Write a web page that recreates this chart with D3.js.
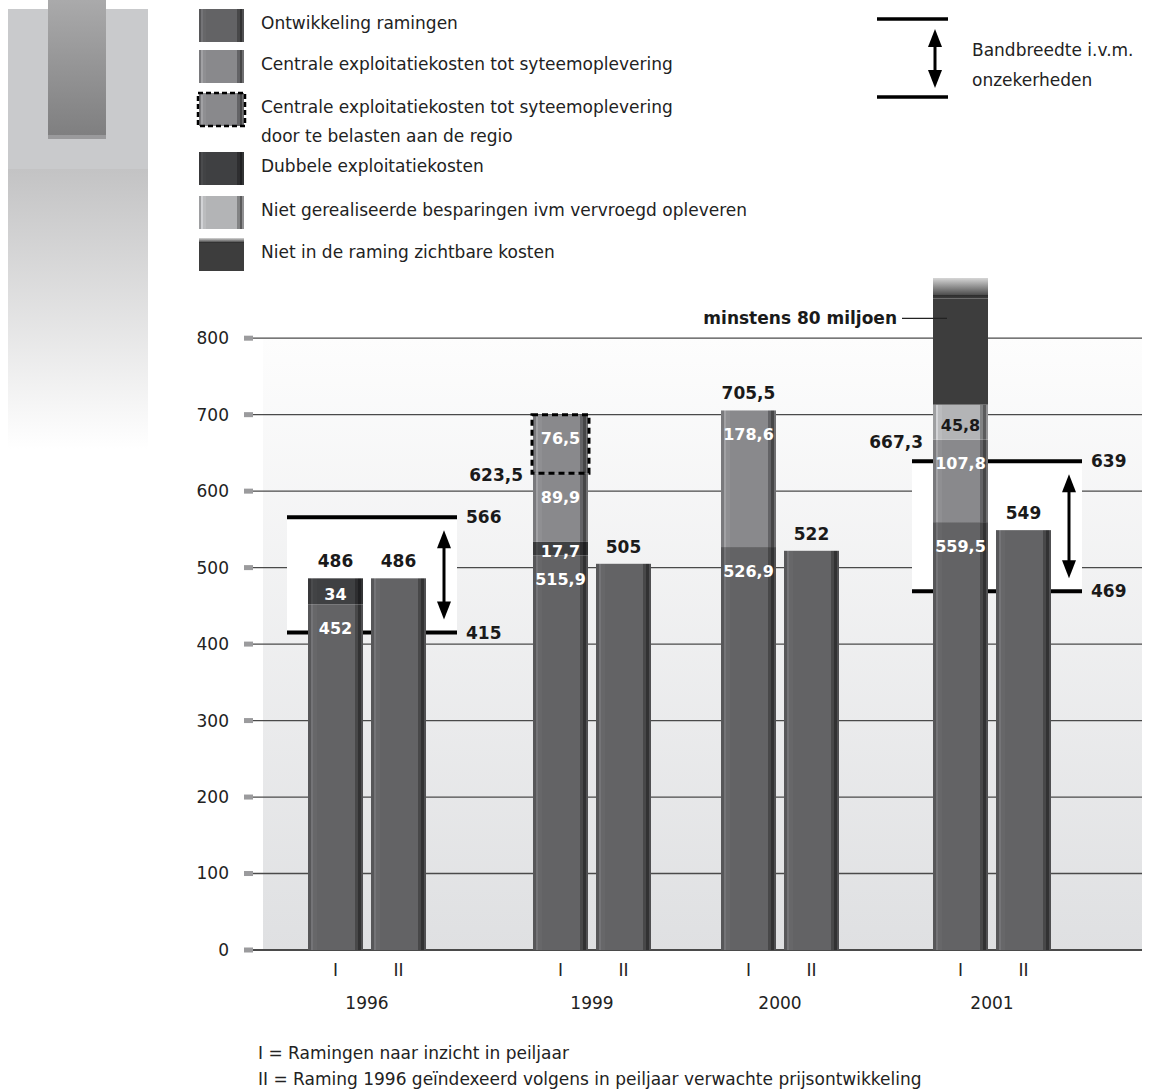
<!DOCTYPE html>
<html>
<head>
<meta charset="utf-8">
<script src="https://cdn.jsdelivr.net/npm/d3@7"></script>
<style>
  body { margin: 0; background: #fff; }
  svg { display: block; font-family: "DejaVu Sans", Verdana, sans-serif; }
</style>
</head>
<body>
<svg id="chart" width="1149" height="1090"></svg>
<script>
// ---- data ----
const years = ["1996", "1999", "2000", "2001"];
const kinds = ["I", "II"];

// raming I, stacked segments (miljoen)
const ontwikkeling = [452, 515.9, 526.9, 559.5];
const dubbele = [34, 17.7, 0, 0];
const centrale = [0, 89.9, 178.6, 107.8];
const centraleRegio = [0, 76.5, 0, 0];
const nietGerealiseerd = [0, 0, 0, 45.8];
const nietInRaming = [0, 0, 0, 80];   // "minstens 80 miljoen", open ended

// raming II (1996 geindexeerd)
const geindexeerd = [486, 505, 522, 549];

const segLabels = {
  ontwikkeling: ["452", "515,9", "526,9", "559,5"],
  dubbele: ["34", "17,7", "", ""],
  centrale: ["", "89,9", "178,6", "107,8"],
  centraleRegio: ["", "76,5", "", ""],
  nietGerealiseerd: ["", "", "", "45,8"]
};
const totalLabelsI = ["486", "", "705,5", ""];
const sideLabelsI = ["", "623,5", "", "667,3"];
const labelsII = ["486", "505", "522", "549"];

const bandHigh = [566, null, null, 639];
const bandLow = [415, null, null, 469];

const yTicks = [0, 100, 200, 300, 400, 500, 600, 700, 800];

const legendItems = [
  {key: "ontwikkeling", lines: ["Ontwikkeling ramingen"]},
  {key: "centrale", lines: ["Centrale exploitatiekosten tot syteemoplevering"]},
  {key: "centraleRegio", lines: ["Centrale exploitatiekosten tot syteemoplevering", "door te belasten aan de regio"]},
  {key: "dubbele", lines: ["Dubbele exploitatiekosten"]},
  {key: "nietGerealiseerd", lines: ["Niet gerealiseerde besparingen ivm vervroegd opleveren"]},
  {key: "nietInRaming", lines: ["Niet in de raming zichtbare kosten"]}
];

const colors = {
  ontwikkeling: "#636365",
  centrale: "#89898c",
  centraleRegio: "#89898c",
  dubbele: "#3f4042",
  nietGerealiseerd: "#b3b4b6",
  nietInRaming: "#3d3d3d"
};

const stackOrder = ["ontwikkeling", "dubbele", "centrale", "centraleRegio", "nietGerealiseerd", "nietInRaming"];
const stackValues = {ontwikkeling, dubbele, centrale, centraleRegio, nietGerealiseerd, nietInRaming};

// ---- setup ----
const svg = d3.select("#chart");
const defs = svg.append("defs");

const y = d3.scaleLinear().domain([0, 880]).range([950, 277]);
const groupX = d3.scaleOrdinal().domain(years).range([308, 533, 721, 933]);
const subX = d3.scaleBand().domain(kinds).range([0, 118]).paddingInner(0.127);
const bw = subX.bandwidth();
const plotLeft = 263, plotRight = 1142;
const fs = 17;

// vertical stripe gradient for each colour (the "tube" look)
function stripeGradient(id, base) {
  const c = d3.color(base);
  const stops = [
    [0, c.darker(0.35)], [0.055, c.darker(0.35)],
    [0.055, c.brighter(0.45)], [0.095, c.brighter(0.45)],
    [0.095, c.brighter(0.12)], [0.16, c.brighter(0.12)],
    [0.16, c], [0.85, c],
    [0.85, c.darker(0.9)], [0.91, c.darker(0.9)],
    [0.91, c.darker(1.9)], [0.96, c.darker(1.9)],
    [0.96, c.darker(0.6)], [1, c.darker(0.6)]
  ];
  const g = defs.append("linearGradient").attr("id", id)
    .attr("x1", 0).attr("x2", 1).attr("y1", 0).attr("y2", 0);
  g.selectAll("stop").data(stops).enter().append("stop")
    .attr("offset", d => d[0]).attr("stop-color", d => d[1].formatHex());
}
Object.keys(colors).forEach(k => { if (k !== "nietInRaming") stripeGradient("g_" + k, colors[k]); });

const fade = defs.append("linearGradient").attr("id", "g_fade")
  .attr("x1", 0).attr("x2", 0).attr("y1", 0).attr("y2", 1);
fade.append("stop").attr("offset", 0).attr("stop-color", "#d6d6d6");
fade.append("stop").attr("offset", 0.85).attr("stop-color", "#4a4a4a");
fade.append("stop").attr("offset", 0.85).attr("stop-color", "#2e2e2e");
fade.append("stop").attr("offset", 1).attr("stop-color", "#3d3d3d");

const bgGrad = defs.append("linearGradient").attr("id", "g_bg")
  .attr("x1", 0).attr("x2", 0).attr("y1", 0).attr("y2", 1);
bgGrad.append("stop").attr("offset", 0).attr("stop-color", "#fdfdfd");
bgGrad.append("stop").attr("offset", 1).attr("stop-color", "#dfe0e2");

const sideGrad = defs.append("linearGradient").attr("id", "g_side")
  .attr("x1", 0).attr("x2", 0).attr("y1", 0).attr("y2", 1);
sideGrad.append("stop").attr("offset", 0).attr("stop-color", "#c3c3c4");
sideGrad.append("stop").attr("offset", 1).attr("stop-color", "#ffffff");

const innerGrad = defs.append("linearGradient").attr("id", "g_inner")
  .attr("x1", 0).attr("x2", 0).attr("y1", 0).attr("y2", 1);
innerGrad.append("stop").attr("offset", 0).attr("stop-color", "#aaaaab");
innerGrad.append("stop").attr("offset", 1).attr("stop-color", "#7f7f80");

// ---- left decoration ----
svg.append("rect").attr("x", 8).attr("y", 9).attr("width", 140).attr("height", 160).attr("fill", "#c9cacc");
svg.append("rect").attr("x", 8).attr("y", 169).attr("width", 140).attr("height", 280).attr("fill", "url(#g_side)");
svg.append("rect").attr("x", 48).attr("y", 0).attr("width", 58).attr("height", 135).attr("fill", "url(#g_inner)");
svg.append("rect").attr("x", 48).attr("y", 135).attr("width", 58).attr("height", 4).attr("fill", "#9a9a9c");

// ---- legend ----
const legY = [9, 50, 93, 152, 196, 238];
const leg = svg.append("g");
legendItems.forEach((item, i) => {
  const g = leg.append("g").attr("transform", `translate(199,${legY[i]})`);
  if (item.key === "nietInRaming") {
    g.append("rect").attr("width", 45).attr("height", 33).attr("fill", colors.nietInRaming);
    g.append("rect").attr("width", 45).attr("height", 5).attr("fill", "url(#g_fade)");
  } else {
    g.append("rect").attr("width", 45).attr("height", 33).attr("fill", `url(#g_${item.key})`);
  }
  if (item.key === "centraleRegio") {
    g.append("rect").attr("x", -1).attr("y", 0).attr("width", 47).attr("height", 33)
      .attr("fill", "none").attr("stroke", "#000").attr("stroke-width", 2.5).attr("stroke-dasharray", "5,3");
  }
  item.lines.forEach((t, j) => {
    g.append("text").attr("x", 62).attr("y", 14 + j * 29).attr("dy", "0.35em")
      .attr("font-size", fs).attr("fill", "#222").text(t);
  });
});

// double-headed arrow
function arrow(g, x, y1, y2) {
  g.append("line").attr("x1", x).attr("x2", x).attr("y1", y1 + 12).attr("y2", y2 - 12)
    .attr("stroke", "#000").attr("stroke-width", 3);
  g.append("path").attr("d", `M${x},${y1} L${x - 7},${y1 + 18} L${x + 7},${y1 + 18} Z`).attr("fill", "#000");
  g.append("path").attr("d", `M${x},${y2} L${x - 7},${y2 - 18} L${x + 7},${y2 - 18} Z`).attr("fill", "#000");
}

// band legend, top right
const bl = svg.append("g");
bl.append("line").attr("x1", 877).attr("x2", 948).attr("y1", 19).attr("y2", 19).attr("stroke", "#000").attr("stroke-width", 3.5);
bl.append("line").attr("x1", 877).attr("x2", 948).attr("y1", 97).attr("y2", 97).attr("stroke", "#000").attr("stroke-width", 3.5);
arrow(bl, 935, 29, 88);
bl.append("text").attr("x", 972).attr("y", 50).attr("dy", "0.35em").attr("font-size", fs).attr("fill", "#222").text("Bandbreedte i.v.m.");
bl.append("text").attr("x", 972).attr("y", 80).attr("dy", "0.35em").attr("font-size", fs).attr("fill", "#222").text("onzekerheden");

// ---- plot background + grid ----
svg.append("rect").attr("x", plotLeft).attr("y", y(800)).attr("width", plotRight - plotLeft)
  .attr("height", y(0) - y(800)).attr("fill", "url(#g_bg)");

const grid = svg.append("g");
grid.selectAll("line").data(yTicks).enter().append("line")
  .attr("x1", 253).attr("x2", plotRight)
  .attr("y1", d => y(d)).attr("y2", d => y(d))
  .attr("stroke", "#4a4a4a").attr("stroke-width", d => d === 0 ? 1.8 : 1.3);
grid.selectAll("rect").data(yTicks).enter().append("rect")
  .attr("x", 244).attr("y", d => y(d) - 2.5).attr("width", 9).attr("height", 5).attr("fill", "#9b9b9d");

const yAxis = d3.axisLeft(y).tickValues(yTicks).tickSize(0).tickPadding(0);
svg.append("g").attr("transform", "translate(229,0)").call(yAxis)
  .call(g => g.select(".domain").remove())
  .call(g => g.selectAll("text").attr("font-size", fs).attr("fill", "#222")
    .attr("font-family", "'DejaVu Sans', Verdana, sans-serif"));

// ---- bands (white box + lines, behind the bars) ----
const bands = svg.append("g");
years.forEach((yr, i) => {
  if (bandHigh[i] == null) return;
  const x0 = groupX(yr) - 21, x1 = groupX(yr) + subX("II") + bw + 31;
  bands.append("rect").attr("x", x0).attr("y", y(bandHigh[i])).attr("width", x1 - x0)
    .attr("height", y(bandLow[i]) - y(bandHigh[i])).attr("fill", "#fff");
  [bandHigh[i], bandLow[i]].forEach(v => {
    bands.append("line").attr("x1", x0).attr("x2", x1).attr("y1", y(v)).attr("y2", y(v))
      .attr("stroke", "#000").attr("stroke-width", 4);
    bands.append("text").attr("x", x1 + 9).attr("y", y(v)).attr("dy", "0.35em")
      .attr("font-size", fs).attr("font-weight", "bold").attr("fill", "#1a1a1a").text(v);
  });
  arrow(bands, x1 - 13, y(bandHigh[i]) + 13, y(bandLow[i]) - 13);
});

// ---- bars ----
const bars = svg.append("g");
const inFs = 16;
years.forEach((yr, i) => {
  const xI = groupX(yr) + subX("I");
  let acc = 0;
  stackOrder.forEach(key => {
    const v = stackValues[key][i];
    if (!v) return;
    const lo = acc, hi = acc + v;
    acc = hi;
    if (key === "nietInRaming") {
      const solidTop = 852;
      bars.append("rect").attr("x", xI).attr("y", y(solidTop)).attr("width", bw)
        .attr("height", y(lo) - y(solidTop)).attr("fill", colors[key]);
      bars.append("rect").attr("x", xI).attr("y", y(y.domain()[1]) + 1).attr("width", bw)
        .attr("height", y(solidTop) - y(y.domain()[1]) - 1).attr("fill", "url(#g_fade)");
      // annotation
      const ay = y(826);
      bars.append("line").attr("x1", 902).attr("x2", xI + 14).attr("y1", ay).attr("y2", ay)
        .attr("stroke", "#222").attr("stroke-width", 1.2);
      bars.append("text").attr("x", 897).attr("y", ay).attr("dy", "0.35em").attr("text-anchor", "end")
        .attr("font-size", fs).attr("font-weight", "bold").attr("fill", "#1a1a1a").text("minstens 80 miljoen");
      return;
    }
    bars.append("rect").attr("x", xI).attr("y", y(hi)).attr("width", bw)
      .attr("height", y(lo) - y(hi)).attr("fill", `url(#g_${key})`);
    if (key === "centraleRegio") {
      bars.append("rect").attr("x", xI - 1).attr("y", y(hi)).attr("width", bw + 2)
        .attr("height", y(lo) - y(hi)).attr("fill", "none").attr("stroke", "#000")
        .attr("stroke-width", 3).attr("stroke-dasharray", "6,4");
    }
    const t = segLabels[key][i];
    if (t) {
      const top = y(hi), mid = (y(hi) + y(lo)) / 2;
      bars.append("text").attr("x", xI + bw / 2).attr("y", Math.min(top + 24, mid + 3)).attr("dy", "0.35em")
        .attr("text-anchor", "middle").attr("font-size", inFs).attr("font-weight", "bold")
        .attr("fill", key === "nietGerealiseerd" ? "#1a1a1a" : "#fff").text(t);
    }
  });
  if (totalLabelsI[i]) {
    bars.append("text").attr("x", xI + bw / 2).attr("y", y(acc) - 17).attr("dy", "0.35em")
      .attr("text-anchor", "middle").attr("font-size", fs).attr("font-weight", "bold")
      .attr("fill", "#1a1a1a").text(totalLabelsI[i]);
  }
  if (sideLabelsI[i]) {
    const b = ontwikkeling[i] + dubbele[i] + centrale[i];
    bars.append("text").attr("x", xI - 10).attr("y", y(b) + 2).attr("dy", "0.35em")
      .attr("text-anchor", "end").attr("font-size", fs).attr("font-weight", "bold")
      .attr("fill", "#1a1a1a").text(sideLabelsI[i]);
  }

  const xII = groupX(yr) + subX("II");
  bars.append("rect").attr("x", xII).attr("y", y(geindexeerd[i])).attr("width", bw)
    .attr("height", y(0) - y(geindexeerd[i])).attr("fill", "url(#g_ontwikkeling)");
  bars.append("text").attr("x", xII + bw / 2).attr("y", y(geindexeerd[i]) - 17).attr("dy", "0.35em")
    .attr("text-anchor", "middle").attr("font-size", fs).attr("font-weight", "bold")
    .attr("fill", "#1a1a1a").text(labelsII[i]);
});

// ---- x labels ----
const xl = svg.append("g");
years.forEach(yr => {
  kinds.forEach(k => {
    xl.append("text").attr("x", groupX(yr) + subX(k) + bw / 2).attr("y", 970).attr("dy", "0.35em")
      .attr("text-anchor", "middle").attr("font-size", fs).attr("fill", "#222").text(k);
  });
  xl.append("text").attr("x", groupX(yr) + 59).attr("y", 1003).attr("dy", "0.35em")
    .attr("text-anchor", "middle").attr("font-size", fs).attr("fill", "#222").text(yr);
});

// ---- notes ----
svg.append("text").attr("x", 258).attr("y", 1053).attr("dy", "0.35em").attr("font-size", fs).attr("fill", "#222")
  .text("I = Ramingen naar inzicht in peiljaar");
svg.append("text").attr("x", 258).attr("y", 1079).attr("dy", "0.35em").attr("font-size", fs).attr("fill", "#222")
  .text("II = Raming 1996 geïndexeerd volgens in peiljaar verwachte prijsontwikkeling");
</script>
</body>
</html>
